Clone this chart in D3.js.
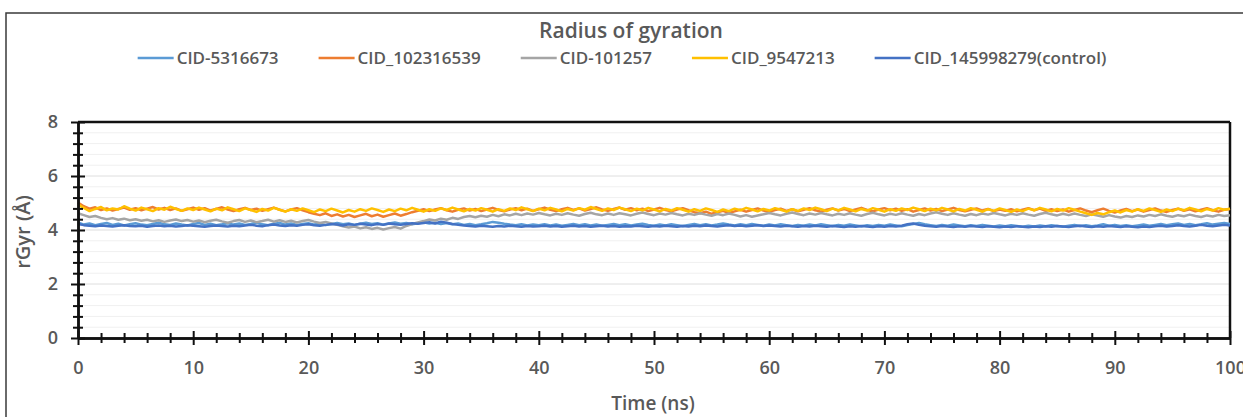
<!DOCTYPE html>
<html>
<head>
<meta charset="utf-8">
<script src="https://cdn.jsdelivr.net/npm/d3@7"></script>
<style>
  body { margin: 0; background: #fff; }
  text { font-family: "Open Sans", sans-serif; fill: #595959; }
</style>
</head>
<body>
<svg id="chart" width="1243" height="417"></svg>
<script>
// series names / colours (legend order = drawing order)
const seriesNames = ['CID-5316673', 'CID_102316539', 'CID-101257', 'CID_9547213', 'CID_145998279(control)']
const seriesColors = ['#5B9BD5', '#ED7D31', '#A5A5A5', '#FFC000', '#4472C4']

// sampling step of the trajectory, ns
const timeStep = 0.5

const yMajorTicks = [0, 2, 4, 6, 8]
const yMinorTicks = [0.4, 0.8, 1.2, 1.6, 2.4, 2.8, 3.2, 3.6, 4.4, 4.8, 5.2, 5.6, 6.4, 6.8, 7.2, 7.6]
const xMajorTicks = [0, 10, 20, 30, 40, 50, 60, 70, 80, 90, 100]
const xMinorTicks = [2, 4, 6, 8, 12, 14, 16, 18, 22, 24, 26, 28, 32, 34, 36, 38, 42, 44, 46, 48,
  52, 54, 56, 58, 62, 64, 66, 68, 72, 74, 76, 78, 82, 84, 86, 88, 92, 94, 96, 98]

// rGyr values (A), every 0.5 ns
const cid5316673 = [
  4.28,4.20,4.24,4.18,4.22,4.26,4.19,4.23,4.17,4.21,4.25,4.20,4.18,4.22,4.27,4.21,4.19,4.24,4.20,4.17,
  4.22,4.26,4.19,4.23,4.18,4.21,4.25,4.20,4.24,4.19,4.22,4.27,4.21,4.18,4.23,4.26,4.20,4.24,4.19,4.22,
  4.25,4.20,4.23,4.18,4.22,4.26,4.21,4.24,4.19,4.23,4.27,4.22,4.25,4.20,4.24,4.28,4.23,4.26,4.21,4.25,
  4.29,4.24,4.27,4.22,4.26,4.21,4.24,4.19,4.22,4.18,4.21,4.25,4.30,4.27,4.23,4.20,4.18,4.21,4.17,4.20,
  4.18,4.21,4.17,4.20,4.16,4.19,4.22,4.18,4.21,4.17,4.20,4.16,4.19,4.22,4.18,4.21,4.17,4.20,4.23,4.19,
  4.16,4.20,4.17,4.21,4.18,4.15,4.19,4.22,4.18,4.21,4.17,4.20,4.24,4.20,4.17,4.21,4.18,4.22,4.19,4.16,
  4.20,4.17,4.21,4.18,4.15,4.19,4.16,4.20,4.17,4.21,4.18,4.15,4.19,4.16,4.20,4.17,4.14,4.18,4.15,4.19,
  4.16,4.20,4.17,4.14,4.18,4.22,4.26,4.21,4.18,4.15,4.19,4.16,4.20,4.17,4.14,4.18,4.15,4.19,4.16,4.13,
  4.17,4.14,4.18,4.15,4.12,4.16,4.13,4.17,4.14,4.18,4.15,4.12,4.16,4.19,4.15,4.18,4.14,4.17,4.21,4.16,
  4.19,4.15,4.18,4.14,4.17,4.20,4.16,4.19,4.22,4.18,4.21,4.24,4.19,4.22,4.18,4.21,4.25,4.20,4.23,4.26,
  4.22]

const cid102316539 = [
  5.02,4.88,4.79,4.84,4.74,4.80,4.72,4.78,4.83,4.75,4.81,4.73,4.79,4.85,4.76,4.82,4.74,4.80,4.71,4.77,
  4.83,4.75,4.81,4.72,4.78,4.84,4.76,4.70,4.77,4.82,4.74,4.79,4.71,4.77,4.83,4.75,4.69,4.76,4.81,4.73,
  4.66,4.60,4.55,4.62,4.52,4.58,4.50,4.56,4.48,4.54,4.60,4.51,4.57,4.49,4.55,4.61,4.53,4.59,4.66,4.71,
  4.77,4.70,4.76,4.81,4.73,4.68,4.75,4.80,4.72,4.78,4.70,4.76,4.82,4.74,4.69,4.76,4.81,4.73,4.79,4.71,
  4.77,4.83,4.75,4.70,4.77,4.82,4.74,4.80,4.72,4.78,4.84,4.76,4.71,4.78,4.83,4.75,4.81,4.73,4.79,4.70,
  4.76,4.82,4.74,4.69,4.76,4.81,4.73,4.66,4.62,4.68,4.60,4.66,4.71,4.63,4.69,4.75,4.68,4.74,4.80,4.72,
  4.67,4.74,4.79,4.71,4.77,4.69,4.75,4.81,4.73,4.68,4.75,4.80,4.72,4.78,4.70,4.76,4.82,4.74,4.69,4.76,
  4.81,4.73,4.79,4.71,4.77,4.68,4.74,4.80,4.72,4.78,4.70,4.76,4.82,4.74,4.69,4.75,4.80,4.72,4.78,4.70,
  4.76,4.71,4.77,4.69,4.75,4.81,4.73,4.79,4.71,4.77,4.70,4.76,4.68,4.74,4.80,4.72,4.66,4.73,4.79,4.71,
  4.65,4.72,4.78,4.70,4.76,4.68,4.74,4.80,4.72,4.67,4.74,4.79,4.71,4.77,4.69,4.75,4.81,4.73,4.68,4.75,
  4.78]

const cid101257 = [
  4.62,4.55,4.48,4.52,4.45,4.40,4.44,4.38,4.42,4.36,4.40,4.34,4.38,4.32,4.36,4.30,4.35,4.39,4.33,4.37,
  4.31,4.35,4.29,4.34,4.38,4.32,4.27,4.33,4.37,4.30,4.35,4.29,4.33,4.38,4.31,4.36,4.30,4.34,4.28,4.33,
  4.37,4.31,4.26,4.30,4.24,4.19,4.14,4.09,4.13,4.06,4.10,4.04,4.08,4.02,4.07,4.11,4.05,4.15,4.22,4.28,
  4.33,4.39,4.35,4.42,4.38,4.45,4.41,4.48,4.52,4.47,4.53,4.49,4.56,4.51,4.58,4.54,4.60,4.55,4.61,4.57,
  4.63,4.58,4.54,4.60,4.56,4.62,4.57,4.53,4.59,4.64,4.58,4.55,4.61,4.56,4.62,4.58,4.54,4.60,4.65,4.59,
  4.55,4.61,4.57,4.63,4.58,4.54,4.60,4.56,4.62,4.57,4.53,4.59,4.55,4.61,4.56,4.50,4.55,4.49,4.54,4.58,
  4.63,4.58,4.54,4.60,4.65,4.59,4.55,4.61,4.57,4.63,4.58,4.54,4.60,4.56,4.62,4.57,4.53,4.59,4.64,4.58,
  4.54,4.60,4.56,4.62,4.57,4.53,4.59,4.55,4.61,4.66,4.60,4.56,4.62,4.57,4.53,4.59,4.55,4.61,4.57,4.63,
  4.58,4.54,4.60,4.56,4.62,4.57,4.53,4.59,4.64,4.58,4.54,4.60,4.55,4.61,4.56,4.52,4.58,4.54,4.49,4.55,
  4.50,4.46,4.52,4.48,4.54,4.50,4.56,4.52,4.58,4.53,4.49,4.55,4.51,4.57,4.52,4.48,4.54,4.50,4.56,4.52,
  4.55]

const cid9547213 = [
  4.95,4.82,4.70,4.78,4.85,4.73,4.80,4.76,4.88,4.79,4.72,4.83,4.77,4.70,4.81,4.75,4.86,4.78,4.71,4.80,
  4.74,4.83,4.76,4.69,4.79,4.73,4.84,4.77,4.70,4.80,4.74,4.67,4.78,4.72,4.82,4.75,4.68,4.77,4.71,4.80,
  4.73,4.66,4.76,4.70,4.79,4.72,4.65,4.74,4.68,4.77,4.71,4.80,4.74,4.67,4.76,4.70,4.79,4.73,4.82,4.75,
  4.68,4.77,4.71,4.80,4.74,4.83,4.76,4.69,4.78,4.72,4.81,4.75,4.68,4.77,4.71,4.80,4.74,4.84,4.77,4.70,
  4.79,4.73,4.82,4.76,4.69,4.78,4.72,4.81,4.75,4.85,4.78,4.71,4.80,4.74,4.83,4.77,4.70,4.79,4.73,4.82,
  4.76,4.69,4.78,4.72,4.81,4.75,4.68,4.77,4.71,4.80,4.74,4.67,4.76,4.70,4.79,4.73,4.82,4.76,4.69,4.78,
  4.72,4.81,4.75,4.68,4.77,4.71,4.80,4.74,4.83,4.77,4.70,4.79,4.73,4.82,4.76,4.69,4.78,4.72,4.81,4.75,
  4.68,4.77,4.71,4.80,4.74,4.83,4.77,4.70,4.79,4.73,4.82,4.76,4.69,4.78,4.72,4.81,4.75,4.68,4.77,4.71,
  4.80,4.74,4.67,4.76,4.70,4.79,4.73,4.82,4.76,4.69,4.78,4.72,4.81,4.75,4.68,4.62,4.56,4.63,4.58,4.66,
  4.72,4.65,4.74,4.68,4.77,4.71,4.80,4.74,4.67,4.76,4.70,4.79,4.73,4.82,4.76,4.69,4.78,4.72,4.81,4.75,
  4.79]

const cid145998279 = [
  4.22,4.18,4.16,4.14,4.17,4.15,4.13,4.16,4.18,4.15,4.14,4.16,4.12,4.15,4.17,4.14,4.16,4.13,4.15,4.18,
  4.16,4.14,4.12,4.15,4.17,4.15,4.13,4.16,4.14,4.17,4.19,4.16,4.14,4.18,4.20,4.17,4.15,4.18,4.16,4.19,
  4.21,4.18,4.16,4.19,4.22,4.20,4.17,4.21,4.19,4.23,4.20,4.18,4.22,4.19,4.24,4.21,4.19,4.22,4.25,4.23,
  4.26,4.29,4.24,4.31,4.27,4.22,4.19,4.17,4.15,4.13,4.16,4.14,4.12,4.15,4.13,4.16,4.14,4.12,4.15,4.13,
  4.14,4.16,4.13,4.15,4.12,4.14,4.16,4.13,4.15,4.12,4.14,4.16,4.13,4.15,4.12,4.14,4.13,4.16,4.14,4.12,
  4.15,4.13,4.16,4.14,4.12,4.15,4.13,4.16,4.14,4.17,4.15,4.13,4.16,4.18,4.15,4.17,4.14,4.16,4.18,4.15,
  4.17,4.15,4.13,4.16,4.14,4.12,4.15,4.13,4.16,4.14,4.12,4.15,4.13,4.11,4.14,4.12,4.15,4.13,4.11,4.14,
  4.12,4.15,4.13,4.16,4.21,4.24,4.19,4.16,4.14,4.12,4.15,4.13,4.11,4.14,4.12,4.15,4.13,4.11,4.14,4.12,
  4.10,4.13,4.11,4.14,4.12,4.10,4.13,4.11,4.14,4.12,4.15,4.13,4.11,4.14,4.16,4.13,4.11,4.14,4.12,4.15,
  4.13,4.11,4.14,4.12,4.10,4.13,4.11,4.14,4.16,4.13,4.15,4.18,4.15,4.13,4.16,4.19,4.16,4.14,4.17,4.19,
  4.17]

const seriesValues = [cid5316673, cid102316539, cid101257, cid9547213, cid145998279]

let svg = d3.select('#chart')

// outer frame (right/bottom edges fall outside the picture)
svg.append('rect')
  .attr('x', 6).attr('y', 13)
  .attr('width', 1400).attr('height', 600)
  .attr('fill', 'none')
  .attr('stroke', '#3a3a3a')
  .attr('stroke-width', 1.5)

let x = d3.scaleLinear().domain([0, 100]).range([78, 1230])
let y = d3.scaleLinear().domain([0, 8]).range([338, 122])

// gridlines
svg.append('g').selectAll('line')
  .data(yMinorTicks)
  .enter().append('line')
  .attr('x1', x(0)).attr('x2', x(100))
  .attr('y1', d => y(d)).attr('y2', d => y(d))
  .attr('stroke', '#f0f0f0')

svg.append('g').selectAll('line')
  .data(yMajorTicks)
  .enter().append('line')
  .attr('x1', x(0)).attr('x2', x(100))
  .attr('y1', d => y(d)).attr('y2', d => y(d))
  .attr('stroke', '#dedede')

// top and right borders of the plot
svg.append('line')
  .attr('x1', x(0)).attr('x2', x(100)).attr('y1', y(8)).attr('y2', y(8))
  .attr('stroke', '#111').attr('stroke-width', 2.5)
svg.append('line')
  .attr('x1', x(100)).attr('x2', x(100)).attr('y1', y(8)).attr('y2', y(0))
  .attr('stroke', '#111').attr('stroke-width', 2.5)

// series lines
let line = d3.line()
  .x((d, i) => x(i * timeStep))
  .y(d => y(d))

svg.append('g').selectAll('path')
  .data(seriesValues)
  .enter().append('path')
  .attr('d', d => line(d))
  .attr('fill', 'none')
  .attr('stroke', (d, i) => seriesColors[i])
  .attr('stroke-width', 2.5)
  .attr('stroke-linejoin', 'round')

// axes
function crossTicks(g) {
  g.select('.domain').attr('stroke', '#111').attr('stroke-width', 2.5)
  g.selectAll('.tick line').attr('stroke', '#111').attr('stroke-width', 2)
}

let yMinor = svg.append('g')
  .attr('transform', 'translate(' + x(0) + ',0)')
  .call(d3.axisLeft(y).tickValues(yMinorTicks).tickFormat('').tickSizeOuter(0))
yMinor.selectAll('.tick line').attr('x1', -5).attr('x2', 5)
crossTicks(yMinor)

let yAxis = svg.append('g')
  .attr('transform', 'translate(' + x(0) + ',0)')
  .call(d3.axisLeft(y).tickValues(yMajorTicks).tickSizeOuter(0).tickPadding(0))
yAxis.selectAll('.tick line').attr('x1', -7).attr('x2', 7)
yAxis.selectAll('.tick text').attr('x', -20).attr('font-size', 18).attr('font-weight', 600)
crossTicks(yAxis)

let xMinor = svg.append('g')
  .attr('transform', 'translate(0,' + y(0) + ')')
  .call(d3.axisBottom(x).tickValues(xMinorTicks).tickFormat('').tickSizeOuter(0))
xMinor.selectAll('.tick line').attr('y1', -5).attr('y2', 5)
crossTicks(xMinor)

let xAxis = svg.append('g')
  .attr('transform', 'translate(0,' + y(0) + ')')
  .call(d3.axisBottom(x).tickValues(xMajorTicks).tickSizeOuter(0))
xAxis.selectAll('.tick line').attr('y1', -7).attr('y2', 7)
xAxis.selectAll('.tick text').attr('y', 23).attr('font-size', 18).attr('font-weight', 600)
crossTicks(xAxis)

svg.selectAll('.tick text').style('fill', '#595959').attr('font-family', '"Open Sans", sans-serif')

// title
svg.append('text')
  .attr('x', 631).attr('y', 38)
  .attr('text-anchor', 'middle')
  .attr('font-size', 21)
  .attr('font-weight', 600)
  .text('Radius of gyration')

// axis titles
svg.append('text')
  .attr('x', 653).attr('y', 410)
  .attr('text-anchor', 'middle')
  .attr('font-size', 19)
  .attr('font-weight', 600)
  .text('Time (ns)')

svg.append('text')
  .attr('transform', 'translate(30,232) rotate(-90)')
  .attr('text-anchor', 'middle')
  .attr('font-size', 20)
  .attr('font-weight', 600)
  .text('rGyr (Å)')

// legend, centred above the plot
let legend = svg.append('g')
let items = legend.selectAll('g')
  .data(seriesNames)
  .enter().append('g')

items.append('line')
  .attr('x1', 0).attr('x2', 36)
  .attr('y1', 58).attr('y2', 58)
  .attr('stroke', (d, i) => seriesColors[i])
  .attr('stroke-width', 2.5)

items.append('text')
  .attr('x', 39).attr('y', 64)
  .attr('font-size', 17)
  .attr('font-weight', 600)
  .text(d => d)

let gap = 40
let pos = 0
let offsets = []
items.each(function () {
  offsets.push(pos)
  let w = 39 + d3.select(this).select('text').node().getComputedTextLength()
  pos += w + gap
})
let total = pos - gap
let start = 622 - total / 2
items.attr('transform', (d, i) => 'translate(' + (start + offsets[i]) + ',0)')
</script>
</body>
</html>
